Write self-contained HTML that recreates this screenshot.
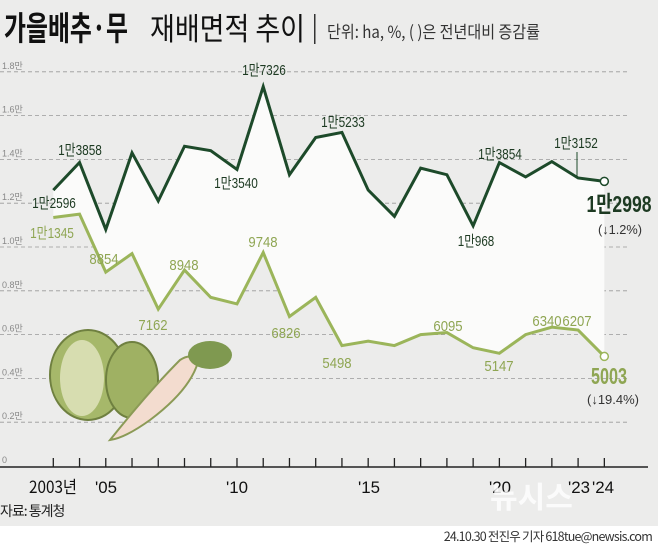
<!DOCTYPE html>
<html><head><meta charset="utf-8">
<style>
html,body{margin:0;padding:0;background:#ececeb;}
svg{display:block;font-family:"Liberation Sans","Noto Sans CJK KR",sans-serif;}
</style></head>
<body>
<svg id="s" width="658" height="546" viewBox="0 0 658 546" xmlns="http://www.w3.org/2000/svg">
<rect width="658" height="546" fill="#ececeb"/>
<text x="4" y="40" font-size="33" font-weight="bold" fill="#111" font-family="'Noto Sans CJK KR',sans-serif" textLength="124" lengthAdjust="spacingAndGlyphs">가을배추·무</text>
<text x="150" y="40" font-size="31" fill="#111" font-family="'Noto Sans CJK KR',sans-serif" textLength="155" lengthAdjust="spacingAndGlyphs">재배면적 추이</text>
<rect x="314" y="14" width="1.5" height="30" fill="#333"/>
<text x="327" y="38" font-size="17" fill="#333" font-family="'Noto Sans CJK KR',sans-serif" textLength="213" lengthAdjust="spacingAndGlyphs">단위: ha, %, ( )은 전년대비 증감률</text>
<g id="grid"></g>
<g id="area"></g>
<g id="lines"></g>
<g id="labels"></g>
<g>
<ellipse cx="88" cy="375" rx="38" ry="45" fill="#a6b86a" stroke="#6f8040" stroke-width="2"/>
<ellipse cx="82" cy="378" rx="22" ry="38" fill="#d7ddb0"/>
<ellipse cx="132" cy="380" rx="26" ry="38" fill="#9fb163" stroke="#6f8040" stroke-width="2"/>
<path d="M110 440 Q150 390 180 360 Q192 352 198 362 Q190 390 150 420 Q125 438 110 440Z" fill="#f3dccf" stroke="#8b9a56" stroke-width="2"/>
<ellipse cx="210" cy="355" rx="22" ry="14" fill="#7f9950"/>
</g>
<line x1="0" y1="467" x2="648" y2="467" stroke="#222" stroke-width="1.5"/>
<g id="ticks"></g>
<text x="29" y="493" font-size="17" fill="#111" font-family="'Noto Sans CJK KR',sans-serif" textLength="48" lengthAdjust="spacingAndGlyphs">2003년</text>
<text x="95" y="493" font-size="17" fill="#111" textLength="22" lengthAdjust="spacingAndGlyphs">'05</text>
<text x="226" y="493" font-size="17" fill="#111" textLength="22" lengthAdjust="spacingAndGlyphs">'10</text>
<text x="358" y="493" font-size="17" fill="#111" textLength="22" lengthAdjust="spacingAndGlyphs">'15</text>
<text x="489" y="493" font-size="17" fill="#111" textLength="22" lengthAdjust="spacingAndGlyphs">'20</text>
<text x="568" y="493" font-size="17" fill="#111" textLength="22" lengthAdjust="spacingAndGlyphs">'23</text>
<text x="592" y="493" font-size="17" fill="#111" textLength="22" lengthAdjust="spacingAndGlyphs">'24</text>
<text x="0" y="516" font-size="14" fill="#222" font-family="'Noto Sans CJK KR',sans-serif" letter-spacing="-1">자료: 통계청</text>
<text x="490" y="508" font-size="30" font-weight="bold" fill="#fff" opacity="0.8" font-family="'Noto Sans CJK KR',sans-serif">뉴시스</text>
<rect x="0" y="526" width="658" height="20" fill="#fff"/>
<text x="652" y="541" text-anchor="end" font-size="12.5" fill="#333" font-family="'Noto Sans CJK KR',sans-serif" letter-spacing="-0.8">24.10.30 전진우 기자 618tue@newsis.com</text>
</svg>
<script>
const NS="http://www.w3.org/2000/svg";
const X=y=>53.3+(y-2003)*26.24, Y=v=>466-v*0.0219;
function el(p,t,a,txt){const e=document.createElementNS(NS,t);for(const k in a)e.setAttribute(k,a[k]);if(txt!=null)e.textContent=txt;document.getElementById(p).appendChild(e);return e;}
const c=[12596,13858,10800,14300,12100,14600,14400,13540,17326,13300,15000,15233,12600,11400,13600,13300,10968,13854,13200,13900,13152,12998];
const r=[11345,11500,8854,9700,7162,8948,7700,7400,9748,6826,7700,5498,5700,5500,6000,6095,5400,5147,6000,6340,6207,5003];
const gl=["1.8만","1.6만","1.4만","1.2만","1.0만","0.8만","0.6만","0.4만","0.2만"];
gl.forEach((t,i)=>{const v=18000-i*2000,y=Y(v);el("grid","line",{x1:0,x2:630,y1:y,y2:y,stroke:"#999","stroke-dasharray":"4 3","stroke-width":0.8});el("grid","text",{x:2,y:y-3,"font-size":9,fill:"#888"},t);});
el("grid","text",{x:2,y:463,"font-size":9,fill:"#888"},"0");
let pc=c.map((v,i)=>X(2003+i)+","+Y(v)),pr=r.map((v,i)=>X(2003+i)+","+Y(v));
el("area","polygon",{points:pc.join(" ")+" "+pr.slice().reverse().join(" "),fill:"#fbfbfa"});
el("lines","polyline",{points:pc.join(" "),fill:"none",stroke:"#1d4a2a","stroke-width":3});
el("lines","polyline",{points:pr.join(" "),fill:"none",stroke:"#9bb55a","stroke-width":3});
el("lines","circle",{cx:X(2024),cy:Y(12998),r:4,fill:"#fff",stroke:"#1d4a2a","stroke-width":1.5});
el("lines","circle",{cx:X(2024),cy:Y(5003),r:4,fill:"#fff",stroke:"#9bb55a","stroke-width":1.5});
el("lines","line",{x1:577,x2:577,y1:152,y2:177,stroke:"#1d4a2a"});
for(let y=2003;y<=2024;y++)el("ticks","line",{x1:X(y),x2:X(y),y1:458,y2:467,stroke:"#222","stroke-width":1.3});
function lab(x,y,t,fill,fs,w,bold){const a={x:x,y:y,"text-anchor":"middle","font-size":fs,fill:fill,textLength:w,lengthAdjust:"spacingAndGlyphs","font-family":"'Liberation Sans','Noto Sans CJK KR',sans-serif"};if(bold)a["font-weight"]="bold";el("labels","text",a,t);}
const dl=[[54,208,"1만2596"],[80,155,"1만3858"],[264,75,"1만7326"],[236,188,"1만3540"],[343,127,"1만5233"],[500,159,"1만3854"],[476,246,"1만968"],[576,148,"1만3152"]];
dl.forEach(d=>lab(d[0],d[1],d[2],"#1d3a22",15,d[2].length*7.3));
const gl2=[[52,238,"1만1345"],[104,264,"8854"],[153,330,"7162"],[184,270,"8948"],[263,247,"9748"],[286,338,"6826"],[337,368,"5498"],[448,331,"6095"],[499,371,"5147"],[547,326,"6340"],[577,326,"6207"]];
gl2.forEach(d=>lab(d[0],d[1],d[2],"#8fa653",15,d[2].length*7.3));
lab(619,212,"1만2998","#1d3a22",23,65,true);
lab(620,234,"(↓1.2%)","#333",13,44);
lab(609,384,"5003","#8fa653",23,36,true);
lab(613,404,"(↓19.4%)","#333",13,52);
</script>
</body></html>
